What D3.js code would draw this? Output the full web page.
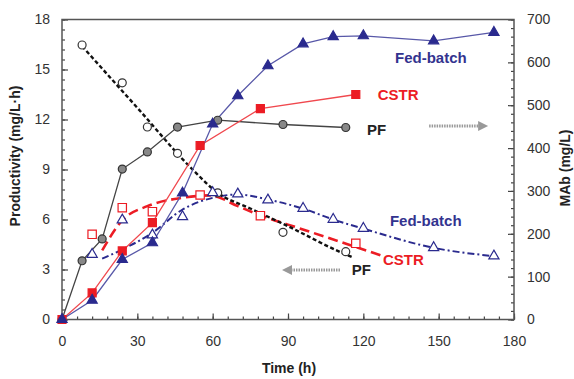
<!DOCTYPE html>
<html>
<head>
<meta charset="utf-8">
<script src="https://cdn.jsdelivr.net/npm/d3@7"></script>
<style>
  body { margin: 0; background: #fff; }
  svg { display: block; font-family: "Liberation Sans", Arial, sans-serif; }
</style>
</head>
<body>
<svg id="chart" width="574" height="379"></svg>
<script>
// MAb concentration (right axis) - filled markers
var pfTime = [0, 8, 16, 24, 34, 46, 62, 88, 113];
var pfMab = [0, 137, 188, 351, 391, 449, 465, 455, 448];
var cstrTime = [0, 12, 24, 36, 55, 79, 117];
var cstrMab = [0, 62, 160, 226, 406, 492, 525];
var fbTime = [0, 12, 24, 36, 48, 60, 70, 82, 96, 108, 120, 148, 172];
var fbMab = [0, 45, 140, 179, 295, 456, 522, 592, 643, 660, 662, 650, 670];

// productivity (left axis) - open markers
var pfProdTime = [8, 24, 34, 46, 62, 88, 113];
var pfProd = [16.47, 14.2, 11.55, 9.97, 7.6, 5.23, 4.07];
var cstrProdTime = [12, 24, 36, 55, 79, 117];
var cstrProd = [5.11, 6.71, 6.47, 7.47, 6.23, 4.57];
var fbProdTime = [12, 24, 36, 48, 60, 70, 82, 96, 108, 120, 148, 172];
var fbProd = [3.91, 5.97, 5.07, 6.17, 7.61, 7.53, 7.17, 6.67, 6.01, 5.47, 4.31, 3.81];

// productivity trend curves
var pfTrendTime = [8, 30, 52, 62, 75, 90, 110, 116];
var pfTrend = [16.4, 12.7, 9.0, 7.6, 6.66, 5.6, 4.1, 3.71];
var cstrTrendTime = [16, 24, 34, 48, 59, 70, 79, 95, 111, 127];
var cstrTrend = [4.15, 5.95, 6.8, 7.3, 7.45, 6.8, 6.25, 5.45, 4.65, 3.85];
var fbTrendTime = [16, 24, 36, 48, 60, 70, 82, 96, 108, 120, 148, 172];
var fbTrend = [3.65, 4.2, 5.2, 6.6, 7.3, 7.5, 7.2, 6.65, 6.0, 5.45, 4.3, 3.8];

var xTicks = [0, 30, 60, 90, 120, 150, 180];
var yLeftTicks = [0, 3, 6, 9, 12, 15, 18];
var yRightTicks = [0, 100, 200, 300, 400, 500, 600, 700];

var svg = d3.select("#chart");
var x = d3.scaleLinear().domain([0, 180]).range([62, 514]);
var yL = d3.scaleLinear().domain([0, 18]).range([319.5, 19.5]);
var yR = d3.scaleLinear().domain([0, 700]).range([319.5, 19.5]);

var blue = "#2a2a8e", blueLine = "#5858a8", red = "#ec1c24", redLine = "#f0484e";

function zip(a, b) { return a.map(function (d, i) { return [d, b[i]]; }); }

// minor ticks
svg.append("g").attr("transform", "translate(0,319.5)")
  .call(d3.axisBottom(x).tickValues(d3.range(0, 181, 6)).tickSize(-3).tickFormat(""));
svg.append("g").attr("transform", "translate(62,0)")
  .call(d3.axisLeft(yL).tickValues(d3.range(0, 18.01, 0.6)).tickSize(-3).tickFormat(""));
svg.append("g").attr("transform", "translate(514,0)")
  .call(d3.axisRight(yR).tickValues(d3.range(0, 701, 20)).tickSize(-3).tickFormat(""));

// major ticks
svg.append("g").attr("class", "ax").attr("transform", "translate(0,319.5)")
  .call(d3.axisBottom(x).tickValues(xTicks).tickSize(-6).tickPadding(17));
svg.append("g").attr("class", "ax").attr("transform", "translate(62,0)")
  .call(d3.axisLeft(yL).tickValues(yLeftTicks).tickSize(-6).tickPadding(12));
svg.append("g").attr("class", "ax").attr("transform", "translate(514,0)")
  .call(d3.axisRight(yR).tickValues(yRightTicks).tickSize(-6).tickPadding(13));

svg.selectAll(".domain").remove();
svg.selectAll(".tick line").attr("stroke", "#444").attr("stroke-width", 1.2);
svg.selectAll(".ax text").attr("font-size", 14).attr("fill", "#333")
  .attr("font-family", "Liberation Sans, Arial, sans-serif");

svg.append("rect").attr("x", 62).attr("y", 19.5).attr("width", 452).attr("height", 300)
  .attr("fill", "none").attr("stroke", "#555").attr("stroke-width", 1.5);

// axis titles
svg.append("text").attr("x", 289).attr("y", 373).attr("text-anchor", "middle")
  .attr("font-size", 14).attr("font-weight", "bold").attr("fill", "#222").text("Time (h)");
svg.append("text").attr("transform", "translate(20,156) rotate(-90)").attr("text-anchor", "middle")
  .attr("font-size", 14).attr("font-weight", "bold").attr("fill", "#222").text("Productivity (mg/L·h)");
svg.append("text").attr("transform", "translate(570,168) rotate(-90)").attr("text-anchor", "middle")
  .attr("font-size", 14).attr("font-weight", "bold").attr("fill", "#222").text("MAb (mg/L)");

var lineR = d3.line().x(function (d) { return x(d[0]); }).y(function (d) { return yR(d[1]); });
var lineL = d3.line().x(function (d) { return x(d[0]); }).y(function (d) { return yL(d[1]); });
var trend = d3.line().curve(d3.curveMonotoneX)
  .x(function (d) { return x(d[0]); }).y(function (d) { return yL(d[1]); });

// trend curves
svg.append("path").attr("d", trend(zip(fbTrendTime, fbTrend))).attr("fill", "none")
  .attr("stroke", blue).attr("stroke-width", 2).attr("stroke-dasharray", "7,3,2,3");
svg.append("path").attr("d", trend(zip(cstrTrendTime, cstrTrend))).attr("fill", "none")
  .attr("stroke", red).attr("stroke-width", 2.6).attr("stroke-dasharray", "10,5");
svg.append("path").attr("d", trend(zip(pfTrendTime, pfTrend))).attr("fill", "none")
  .attr("stroke", "#111").attr("stroke-width", 2.4).attr("stroke-dasharray", "4,2.5");

// MAb lines
svg.append("path").attr("d", lineR(zip(pfTime, pfMab))).attr("fill", "none")
  .attr("stroke", "#444").attr("stroke-width", 1.3);
svg.append("path").attr("d", lineR(zip(cstrTime, cstrMab))).attr("fill", "none")
  .attr("stroke", redLine).attr("stroke-width", 1.3);
svg.append("path").attr("d", lineR(zip(fbTime, fbMab))).attr("fill", "none")
  .attr("stroke", blueLine).attr("stroke-width", 1.3);

function markers(data, yScale, type, size, fill, stroke) {
  svg.append("g").selectAll("path").data(data).enter().append("path")
    .attr("d", d3.symbol().type(type).size(size))
    .attr("transform", function (d) { return "translate(" + x(d[0]) + "," + yScale(d[1]) + ")"; })
    .attr("fill", fill).attr("stroke", stroke).attr("stroke-width", 1.2);
}

markers(zip(pfProdTime, pfProd), yL, d3.symbolCircle, 50, "#fff", "#333");
markers(zip(cstrProdTime, cstrProd), yL, d3.symbolSquare, 70, "#fff", red);
markers(zip(fbProdTime, fbProd), yL, d3.symbolTriangle, 45, "#fff", blue);
markers(zip(pfTime, pfMab), yR, d3.symbolCircle, 50, "#888", "#333");
markers(zip(cstrTime, cstrMab), yR, d3.symbolSquare, 64, red, red);
markers(zip(fbTime, fbMab), yR, d3.symbolTriangle, 45, blue, blue);

// labels
function label(t, yScale, v, txt, color) {
  svg.append("text").attr("x", x(t)).attr("y", yScale(v)).attr("font-size", 15)
    .attr("font-weight", "bold").attr("fill", color).text(txt);
}
label(132.6, yR, 598, "Fed-batch", "#33338f");
label(125.7, yR, 512, "CSTR", red);
label(121.5, yR, 430, "PF", "#222");
label(130.6, yL, 5.63, "Fed-batch", "#33338f");
label(127.8, yL, 3.27, "CSTR", red);
label(115.4, yL, 2.67, "PF", "#222");

// arrows
function arrow(t0, t1, v) {
  var x0 = x(t0), x1 = x(t1), y = yL(v), dir = x1 > x0 ? 1 : -1;
  svg.append("line").attr("x1", x0).attr("x2", x1 - dir * 8).attr("y1", y).attr("y2", y)
    .attr("stroke", "#999").attr("stroke-width", 3).attr("stroke-dasharray", "1.5,1");
  svg.append("path").attr("d", "M" + x1 + "," + y + "L" + (x1 - dir * 10) + "," + (y - 5) +
    "L" + (x1 - dir * 10) + "," + (y + 5) + "Z").attr("fill", "#999");
}
arrow(146.2, 169.7, 11.61);
arrow(110.7, 87.6, 2.97);
</script>
</body>
</html>
